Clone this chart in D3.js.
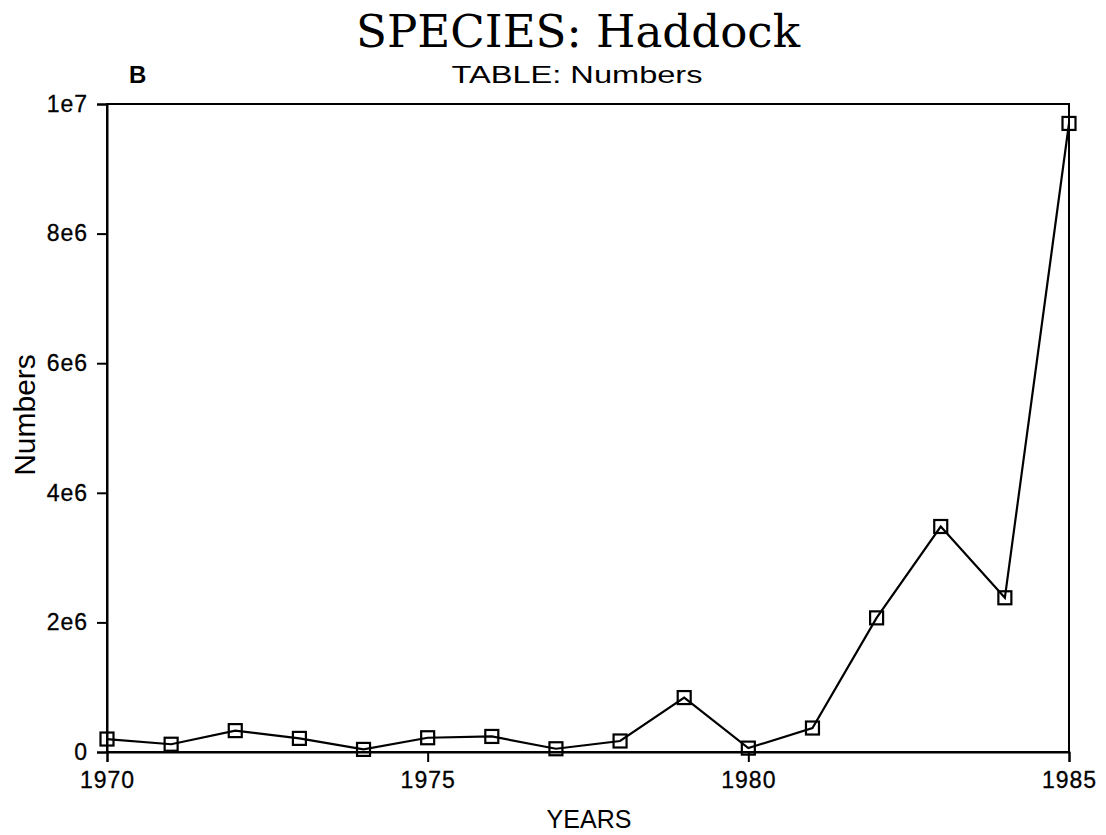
<!DOCTYPE html>
<html><head><meta charset="utf-8">
<script src="https://cdn.jsdelivr.net/npm/d3@7"></script>
<style>
html,body{margin:0;padding:0;background:#fff;}
svg{display:block;}
</style>
</head><body>
<svg id="chart" width="1106" height="835"></svg>
<script>
const years = [1970,1971,1972,1973,1974,1975,1976,1977,1978,1979,1980,1981,1982,1983,1984,1985];
const numbers = [0.20e6,0.12e6,0.33e6,0.21e6,0.04e6,0.22e6,0.24e6,0.05e6,0.17e6,0.84e6,0.06e6,0.37e6,2.07e6,3.48e6,2.38e6,9.70e6];
const xTicks = [1970,1975,1980,1985];
const yTicks = [0,2e6,4e6,6e6,8e6,1e7];
const yTickLabels = ["0","2e6","4e6","6e6","8e6","1e7"];

const svg = d3.select("#chart");
const m = {left:107, right:1069, top:104, bottom:752};
const x = d3.scaleLinear().domain([1970,1985]).range([m.left,m.right]);
const y = d3.scaleLinear().domain([0,1e7]).range([m.bottom,m.top]);

// frame
svg.append("rect").attr("x",m.left).attr("y",m.top)
  .attr("width",m.right-m.left).attr("height",m.bottom-m.top)
  .attr("fill","none").attr("stroke","#000").attr("stroke-width",2);

// x axis
const xAxis = svg.append("g").attr("transform",`translate(0,${m.bottom})`)
  .call(d3.axisBottom(x).tickValues(xTicks).tickFormat(d3.format("d")).tickSize(10).tickPadding(10));
// y axis
const yAxis = svg.append("g").attr("transform",`translate(${m.left},0)`)
  .call(d3.axisLeft(y).tickValues(yTicks).tickFormat((d,i)=>yTickLabels[i]).tickSize(10).tickPadding(9));
[xAxis,yAxis].forEach(g=>{
  g.select(".domain").attr("stroke","#000").attr("stroke-width",2);
  g.selectAll(".tick line").attr("stroke","#000").attr("stroke-width",2);
  g.selectAll(".tick text").attr("fill","#000")
    .style("font-family","'Liberation Sans',Arial,sans-serif")
    .style("font-size","23px").style("letter-spacing","1px")
    .attr("stroke","#000").attr("stroke-width",0.3);
});

// line
const line = d3.line().x((d,i)=>x(years[i])).y(d=>y(d));
svg.append("path").datum(numbers).attr("d",line)
  .attr("fill","none").attr("stroke","#000").attr("stroke-width",2.2);

// markers
const s = 13;
svg.selectAll("rect.mk").data(numbers).enter().append("rect").attr("class","mk")
  .attr("x",(d,i)=>x(years[i])-s/2).attr("y",d=>y(d)-s/2)
  .attr("width",s).attr("height",s)
  .attr("fill","none").attr("stroke","#000").attr("stroke-width",2.2);

// titles
svg.append("text").attr("x",578).attr("y",47).attr("text-anchor","middle")
  .attr("textLength",444).attr("lengthAdjust","spacingAndGlyphs")
  .style("font-family","'DejaVu Serif','Liberation Serif',serif")
  .style("font-size","45px").attr("fill","#000")
  .text("SPECIES: Haddock");
svg.append("text").attr("x",577).attr("y",83).attr("text-anchor","middle")
  .attr("textLength",251).attr("lengthAdjust","spacingAndGlyphs")
  .style("font-family","'Liberation Sans',Arial,sans-serif")
  .style("font-size","24px").attr("fill","#000")
  .text("TABLE: Numbers");
svg.append("text").attr("x",129).attr("y",83)
  .style("font-family","'Liberation Sans',Arial,sans-serif")
  .style("font-size","24px").style("font-weight","bold").attr("fill","#000")
  .text("B");
svg.append("text").attr("x",589).attr("y",828).attr("text-anchor","middle")
  .style("font-family","'Liberation Sans',Arial,sans-serif")
  .style("font-size","25px").attr("fill","#000")
  .text("YEARS");
svg.append("text").attr("transform","translate(35,415) rotate(-90)").attr("text-anchor","middle")
  .style("font-family","'Liberation Sans',Arial,sans-serif")
  .style("font-size","30px").attr("fill","#000")
  .text("Numbers");
</script>
</body></html>
